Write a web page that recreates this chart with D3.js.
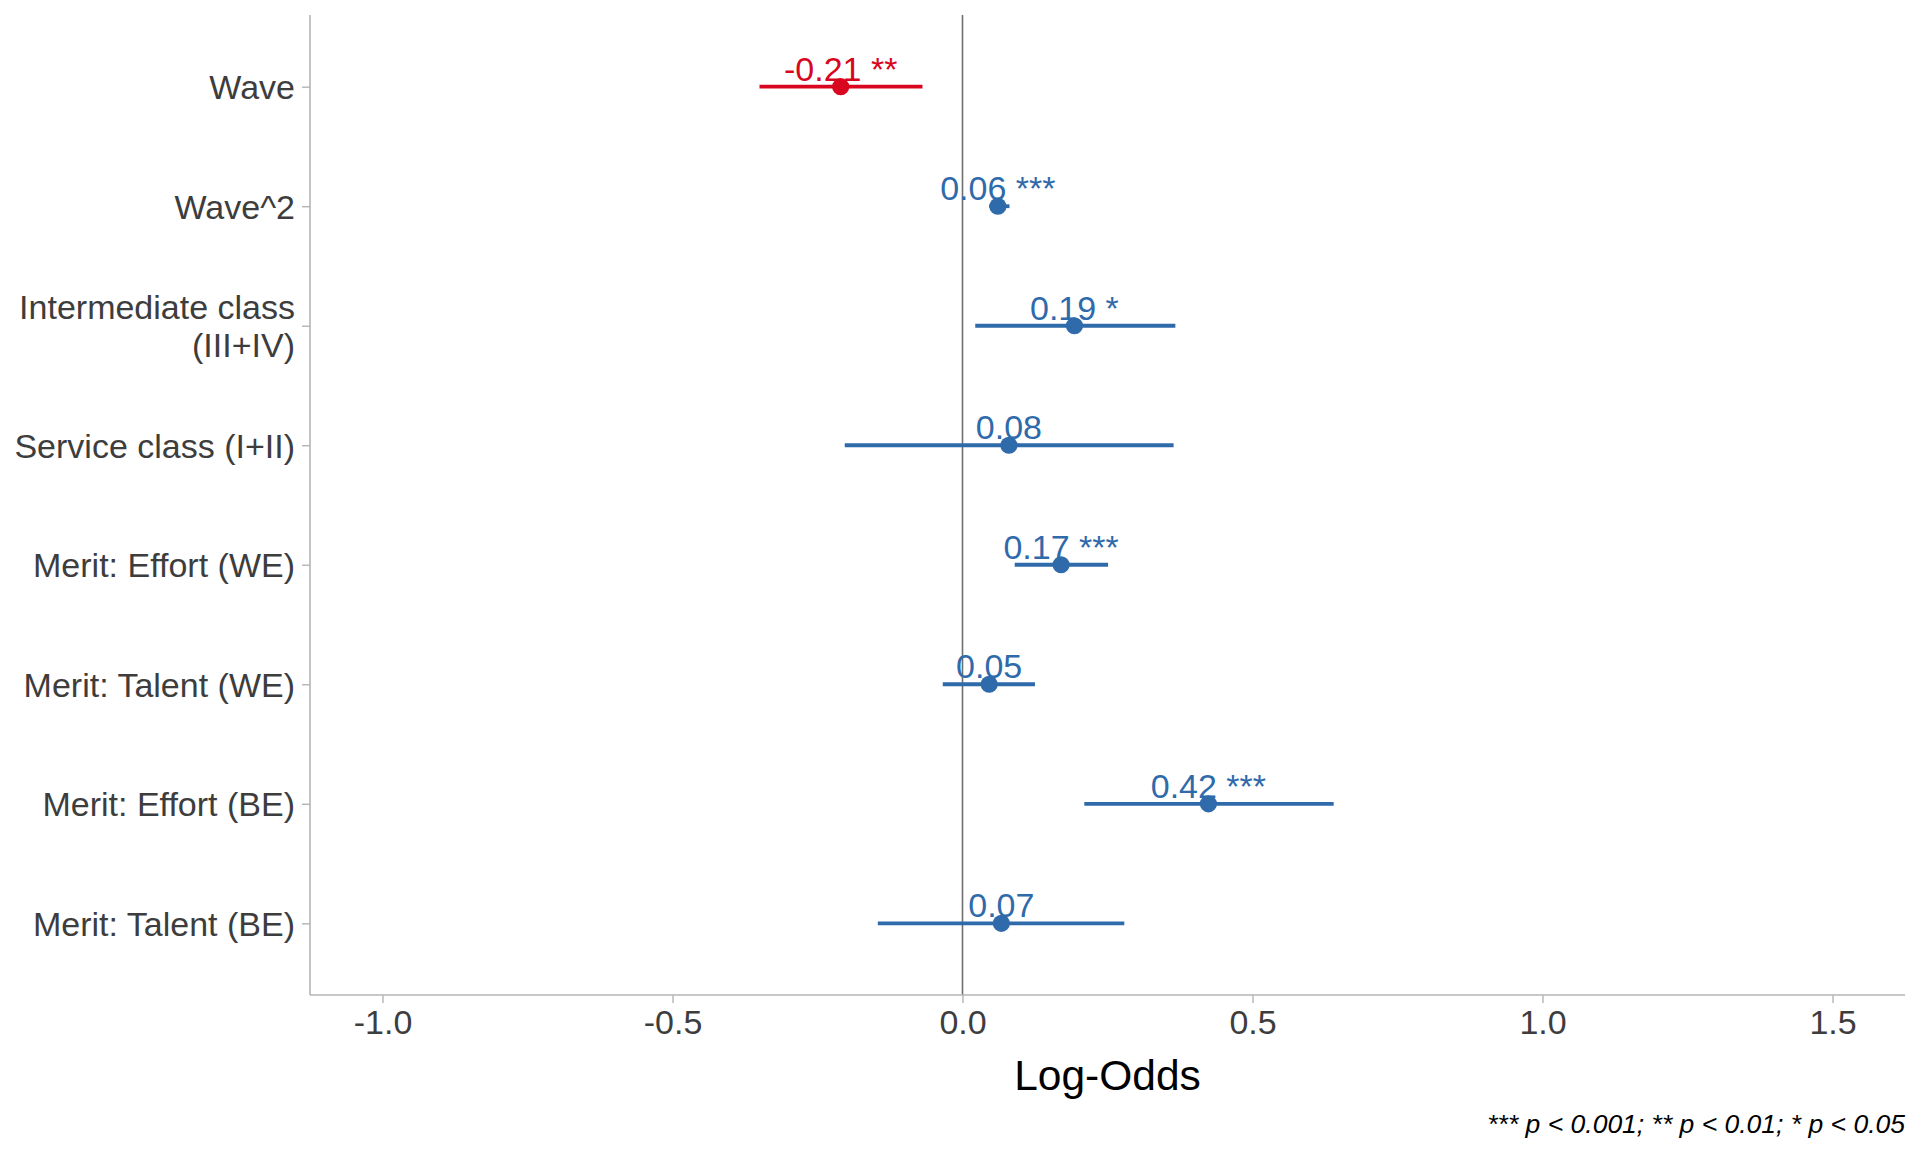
<!DOCTYPE html>
<html>
<head>
<meta charset="utf-8">
<script src="https://cdn.jsdelivr.net/npm/d3@7"></script>
<style>
  body { margin: 0; background: #fff; }
  text { font-family: "Liberation Sans", Arial, sans-serif; }
</style>
</head>
<body>
<svg width="1920" height="1152"></svg>
<script>
var terms = ['Wave', 'Wave^2', 'Intermediate class\n(III+IV)', 'Service class (I+II)',
    'Merit: Effort (WE)', 'Merit: Talent (WE)', 'Merit: Effort (BE)', 'Merit: Talent (BE)'];
var estimates = [-0.21, 0.061, 0.193, 0.080, 0.170, 0.046, 0.424, 0.067];
var ciLow = [-0.350, 0.046, 0.022, -0.203, 0.090, -0.034, 0.210, -0.146];
var ciHigh = [-0.069, 0.081, 0.367, 0.364, 0.251, 0.125, 0.640, 0.279];
var stars = ['**', '***', '*', '', '***', '', '***', ''];
var xTicks = [-1.0, -0.5, 0.0, 0.5, 1.0, 1.5];

var RED = '#d8061e';
var BLUE = '#2f6aab';

function init() {
    var svg = d3.select('svg');
    var left = 310, right = 1905, top = 15, bottom = 995;

    var x = d3.scaleLinear().domain([-1.125, 1.625]).range([left, right]);
    var y = d3.scalePoint().domain(terms).range([top, bottom]).padding(0.6);

    var rows = terms.map(function (t, i) {
        return { term: t, est: estimates[i], lo: ciLow[i], hi: ciHigh[i], stars: stars[i] };
    });

    // zero line
    svg.append('line')
        .attr('x1', x(0)).attr('x2', x(0))
        .attr('y1', top).attr('y2', bottom)
        .attr('stroke', '#6e6e6e').attr('stroke-width', 1.6);

    // axes
    var xAxis = svg.append('g')
        .attr('transform', 'translate(0,' + bottom + ')')
        .call(d3.axisBottom(x).tickValues(xTicks).tickSize(8).tickSizeOuter(0)
            .tickFormat(function (d) { return d.toFixed(1); }));
    xAxis.select('.domain').attr('stroke', '#b5b5b5').attr('stroke-width', 1.6)
        .attr('d', 'M' + left + ',0H' + right);
    xAxis.selectAll('.tick line').attr('stroke', '#b5b5b5').attr('stroke-width', 1.4);
    xAxis.selectAll('.tick text').attr('fill', '#3d3d3d').attr('font-size', 34)
        .attr('dy', null).attr('y', 39);

    var yAxis = svg.append('g')
        .attr('transform', 'translate(' + left + ',0)')
        .call(d3.axisLeft(y).tickSize(8).tickSizeOuter(0).tickFormat(''));
    yAxis.select('.domain').attr('stroke', '#b5b5b5').attr('stroke-width', 1.6)
        .attr('d', 'M0,' + top + 'V' + bottom);
    yAxis.selectAll('.tick line').attr('stroke', '#b5b5b5').attr('stroke-width', 1.4);
    yAxis.selectAll('.tick').each(function (d) {
        var lines = d.split('\n');
        var t = d3.select(this).append('text')
            .attr('text-anchor', 'end')
            .attr('fill', '#3d3d3d')
            .attr('font-size', 34)
            .attr('x', -15);
        lines.forEach(function (s, j) {
            t.append('tspan')
                .attr('x', -15)
                .attr('y', (j - (lines.length - 1) / 2) * 38 + 12)
                .text(s);
        });
    });

    // error bars
    svg.selectAll('.ci').data(rows).enter().append('line')
        .attr('class', 'ci')
        .attr('x1', function (d) { return x(d.lo); })
        .attr('x2', function (d) { return x(d.hi); })
        .attr('y1', function (d) { return y(d.term); })
        .attr('y2', function (d) { return y(d.term); })
        .attr('stroke', function (d) { return d.est < 0 ? RED : BLUE; })
        .attr('stroke-width', 3.8);

    svg.selectAll('.pt').data(rows).enter().append('circle')
        .attr('class', 'pt')
        .attr('cx', function (d) { return x(d.est); })
        .attr('cy', function (d) { return y(d.term); })
        .attr('r', 8.6)
        .attr('fill', function (d) { return d.est < 0 ? RED : BLUE; });

    svg.selectAll('.lab').data(rows).enter().append('text')
        .attr('class', 'lab')
        .attr('x', function (d) { return x(d.est); })
        .attr('y', function (d) { return y(d.term) - 6; })
        .attr('text-anchor', 'middle')
        .attr('font-size', 34)
        .attr('fill', function (d) { return d.est < 0 ? RED : BLUE; })
        .text(function (d) { return d.est.toFixed(2) + (d.stars ? ' ' + d.stars : ''); });

    // titles
    svg.append('text')
        .attr('x', (left + right) / 2).attr('y', 1090)
        .attr('text-anchor', 'middle')
        .attr('font-size', 42.5)
        .attr('fill', '#000')
        .text('Log-Odds');

    svg.append('text')
        .attr('x', 1905).attr('y', 1133)
        .attr('text-anchor', 'end')
        .attr('font-size', 26.5)
        .attr('font-style', 'italic')
        .attr('fill', '#000')
        .text('*** p < 0.001; ** p < 0.01; * p < 0.05');
}
init();
</script>
</body>
</html>
